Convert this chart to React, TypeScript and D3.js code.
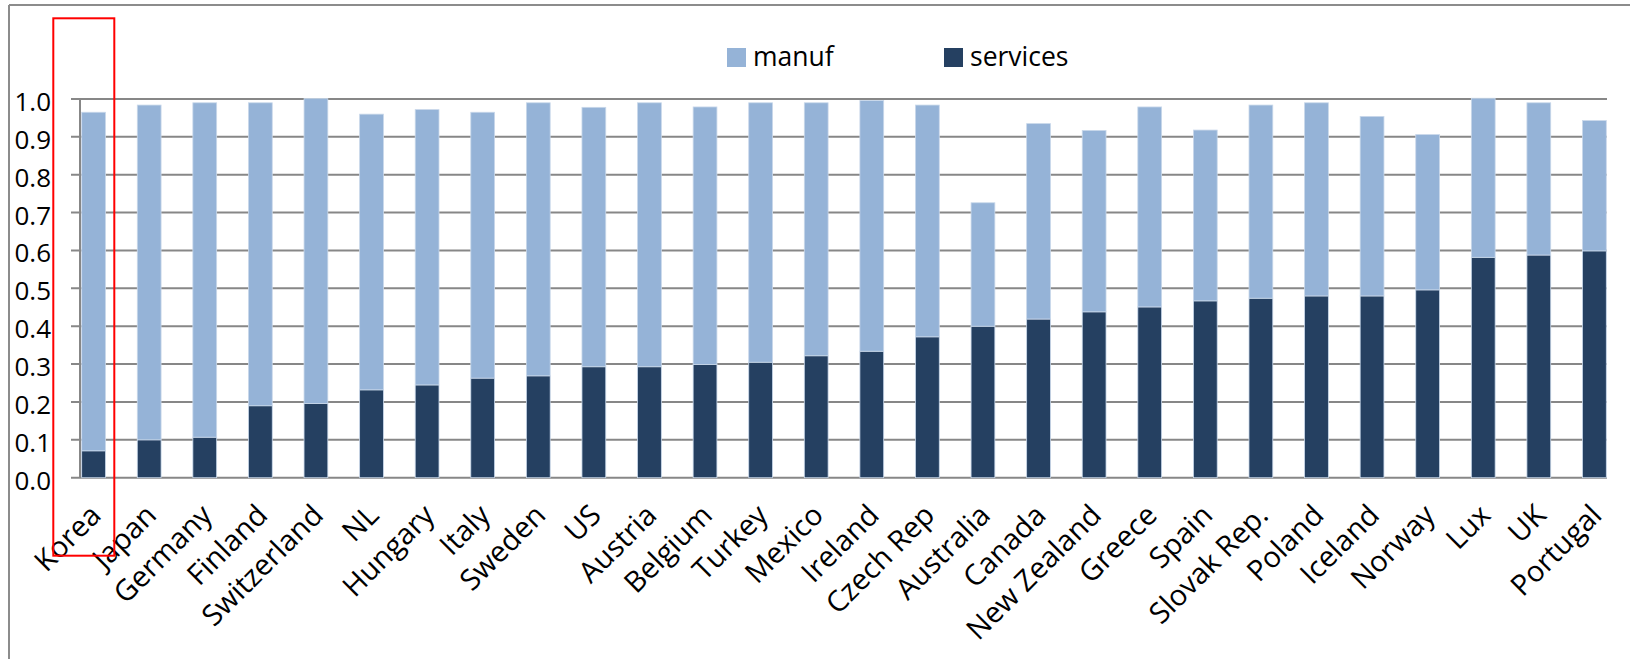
import React, { useEffect, useRef } from "react";
import * as d3 from "d3";

const countries = [
  "Korea", "Japan", "Germany", "Finland", "Switzerland", "NL", "Hungary", "Italy",
  "Sweden", "US", "Austria", "Belgium", "Turkey", "Mexico", "Ireland", "Czech Rep",
  "Australia", "Canada", "New Zealand", "Greece", "Spain", "Slovak Rep.", "Poland",
  "Iceland", "Norway", "Lux", "UK", "Portugal",
];
const services = [
  0.071, 0.100, 0.107, 0.190, 0.196, 0.232, 0.245, 0.263, 0.269, 0.293, 0.293, 0.299,
  0.305, 0.322, 0.334, 0.372, 0.400, 0.419, 0.438, 0.451, 0.467, 0.474, 0.480, 0.480,
  0.496, 0.582, 0.588, 0.599,
];
const manuf = [
  0.894, 0.884, 0.883, 0.800, 0.805, 0.728, 0.727, 0.702, 0.721, 0.685, 0.697, 0.680,
  0.685, 0.668, 0.662, 0.612, 0.326, 0.516, 0.479, 0.528, 0.451, 0.510, 0.510, 0.474,
  0.410, 0.420, 0.402, 0.344,
];
const yTicks = [0, 0.1, 0.2, 0.3, 0.4, 0.5, 0.6, 0.7, 0.8, 0.9, 1.0];
const seriesKeys = ["services", "manuf"];
const legendItems = ["manuf", "services"];

const COLORS: Record<string, string> = { manuf: "#95B3D7", services: "#254061" };
const FONT = "'Open Sans', sans-serif";

export default function App() {
  const ref = useRef<SVGSVGElement>(null);

  useEffect(() => {
    const svg = d3.select(ref.current);
    svg.selectAll("*").remove();

    const rows = countries.map((c, i) => ({ country: c, services: services[i], manuf: manuf[i] }));

    const x = d3.scaleBand<string>().domain(countries).range([81.7, 1606.3]).paddingInner(0.572).paddingOuter(0);
    const y = d3.scaleLinear().domain([0, 1]).range([477.7, 99]);

    // outer chart border (top & left visible)
    svg.append("line").attr("x1", 9).attr("x2", 1630).attr("y1", 5).attr("y2", 5)
      .attr("stroke", "#8c8c8c").attr("stroke-width", 2);
    svg.append("line").attr("x1", 9).attr("x2", 9).attr("y1", 5).attr("y2", 659)
      .attr("stroke", "#8c8c8c").attr("stroke-width", 2);

    // gridlines
    svg.append("g").selectAll("line").data(yTicks).join("line")
      .attr("x1", 71).attr("x2", 1607)
      .attr("y1", (d) => y(d)).attr("y2", (d) => y(d))
      .attr("stroke", "#878787").attr("stroke-width", 2);

    // y axis line
    svg.append("line").attr("x1", 80).attr("x2", 80).attr("y1", y(1)).attr("y2", y(0))
      .attr("stroke", "#878787").attr("stroke-width", 2);

    // y labels
    svg.append("g").selectAll("text").data(yTicks).join("text")
      .attr("x", 51).attr("y", (d) => y(d) + 2)
      .attr("text-anchor", "end").attr("dominant-baseline", "central")
      .attr("font-family", FONT).attr("font-size", 26).attr("fill", "#000")
      .text((d) => d3.format(".1f")(d));

    // bars
    const stacked = d3.stack<any>().keys(seriesKeys)(rows);
    svg.append("g").selectAll("g").data(stacked).join("g")
      .attr("fill", (s) => COLORS[s.key])
      .selectAll("rect").data((s) => s).join("rect")
      .attr("x", (d) => x(d.data.country)!)
      .attr("width", x.bandwidth())
      .attr("y", (d) => y(d[1]))
      .attr("height", (d) => y(d[0]) - y(d[1]))
      .attr("stroke", "#c9d8ea").attr("stroke-width", 0.8);

    // x labels
    svg.append("g").selectAll("text").data(countries).join("text")
      .attr("transform", (d) => `translate(${x(d)! + x.bandwidth() / 2 + 9},${517}) rotate(-45)`)
      .attr("text-anchor", "end")
      .attr("font-family", FONT).attr("font-size", 29).attr("fill", "#000")
      .text((d) => d);

    // legend
    const lx = d3.scaleOrdinal<string, number>().domain(legendItems).range([727, 944]);
    const lg = svg.append("g").selectAll("g").data(legendItems).join("g")
      .attr("transform", (d) => `translate(${lx(d)},48)`);
    lg.append("rect").attr("width", 19).attr("height", 19).attr("fill", (d) => COLORS[d]);
    lg.append("text").attr("x", 26).attr("y", 18)
      .attr("font-family", FONT).attr("font-size", 26.5).attr("fill", "#000")
      .text((d) => d);

    // red highlight box
    svg.append("rect").attr("x", 53.3).attr("y", 18.3).attr("width", 61).attr("height", 537.4)
      .attr("fill", "none").attr("stroke", "#ff0000").attr("stroke-width", 2);
  }, []);

  return (
    <svg
      ref={ref}
      width={1630}
      height={659}
      style={{ position: "absolute", left: 0, top: 0, background: "#fff" }}
    />
  );
}
